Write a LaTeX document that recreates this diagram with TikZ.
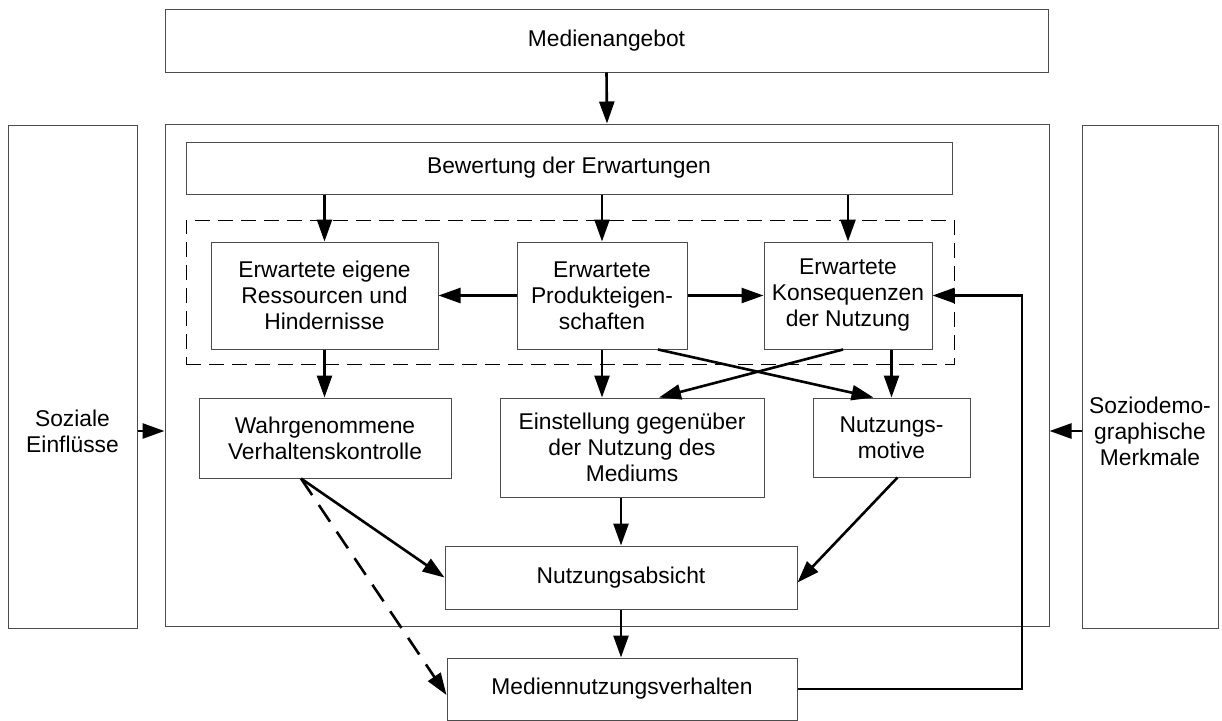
\documentclass[tikz,border=0pt]{standalone}
\usepackage{fontspec}
\setmainfont{Liberation Sans}
\usetikzlibrary{arrows.meta}
\tikzset{
  box/.style={draw=black!70, line width=1pt, inner sep=0pt, align=center, font=\fontsize{22.8}{26}\selectfont},
  txt/.style={inner sep=0pt, align=center, font=\fontsize{22.8}{26}\selectfont},
  arr/.style={line width=2.6pt, -{Triangle[length=22pt,width=15pt]}},
  darr/.style={arr, dash pattern=on 20pt off 12pt},
  grpbox/.style={draw=black, line width=1pt, dash pattern=on 15pt off 8pt, inner sep=0pt}
}
\begin{document}
\begin{tikzpicture}[x=1pt,y=-1pt]
\useasboundingbox (0,0) rectangle (1222,720);
\fill[white] (0,0) rectangle (1222,720);

\node[box, minimum width=883, minimum height=63] (angebot) at (606.5,40.5) {Medienangebot};
\node[box, minimum width=884, minimum height=502] (main) at (607,375) {};
\node[box, minimum width=129, minimum height=503] (soz) at (72.5,376.5) {};
\node[txt] (sozT) at (72.5,431) {Soziale\\Einflüsse};
\node[box, minimum width=136, minimum height=503] (sozio) at (1150,376.5) {};
\node[txt] (sozioT) at (1150,431) {Soziodemo-\\graphische\\Merkmale};

\node[box, minimum width=766, minimum height=52] (bew) at (569,168) {Bewertung der Erwartungen};
\node[grpbox, minimum width=768, minimum height=144] (grp) at (570,292) {};

\node[box, minimum width=227, minimum height=107] (e1) at (324.5,295.5) {Erwartete eigene\\Ressourcen und\\Hindernisse};
\node[box, minimum width=170, minimum height=107] (e2) at (602,295.5) {Erwartete\\Produkteigen-\\schaften};
\node[box, minimum width=168, minimum height=107] (e3) at (848,295.5) {Erwartete\\Konsequenzen\\der Nutzung};

\node[box, minimum width=252, minimum height=80] (wahr) at (325,438) {Wahrgenommene\\Verhaltenskontrolle};
\node[box, minimum width=264, minimum height=99] (einst) at (632,447.5) {Einstellung gegenüber\\der Nutzung des\\Mediums};
\node[box, minimum width=157, minimum height=79] (motiv) at (891.5,437.5) {Nutzungs-\\motive};

\node[box, minimum width=352, minimum height=63] (absicht) at (621,577.5) {Nutzungsabsicht};
\node[box, minimum width=350, minimum height=62] (verh) at (622,689) {Mediennutzungsverhalten};

\coordinate (fbx) at (1022,0);

\draw[arr] (angebot.south) -- (main.north);
\draw[arr] (soz.east |- sozT) -- (main.west |- sozT);
\draw[arr] (sozio.west |- sozioT) -- (main.east |- sozioT);

\draw[arr] (bew.south -| e1.north) -- (e1.north);
\draw[arr] (bew.south -| e2.north) -- (e2.north);
\draw[arr] (bew.south -| e3.north) -- (e3.north);

\draw[arr] (e2.west) -- (e1.east);
\draw[arr] (e2.east) -- (e3.west);

\draw[arr] (e1.south) -- (e1.south |- wahr.north);
\draw[arr] (e2.south) -- (e2.south |- einst.north);
\draw[arr] (e3.south -| motiv.north) -- (motiv.north);
\draw[arr] ([xshift=56pt]e2.south) -- ([xshift=-18pt]motiv.north);
\draw[arr] ([xshift=-5pt]e3.south) -- ([xshift=27pt]einst.north);

\draw[arr] ([xshift=-24pt]wahr.south) -- (absicht.west);
\draw[darr] ([xshift=-24pt]wahr.south) -- ([yshift=-6pt]verh.west);
\draw[arr] (einst.south -| absicht.north) -- (absicht.north);
\draw[arr] ([xshift=6pt]motiv.south) -- ([yshift=-5pt]absicht.east);
\draw[arr] (absicht.south) -- (absicht.south |- verh.north);

\draw[arr] (verh.east) -- (verh.east -| fbx) |- (e3.east);
\end{tikzpicture}
\end{document}
